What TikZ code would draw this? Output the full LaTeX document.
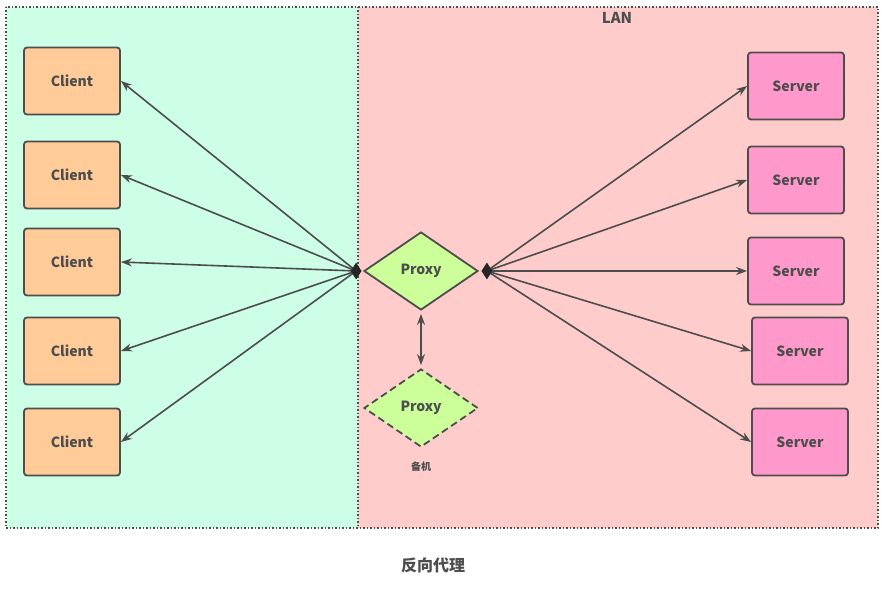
\documentclass[tikz,border=0pt]{standalone}
\usepackage{fontspec}
\setmainfont{Noto Sans CJK SC}
\usepackage{xcolor}
\usetikzlibrary{positioning,arrows.meta,shapes.geometric,calc}
\definecolor{LANpink}{HTML}{FFCCCC}
\definecolor{WANmint}{HTML}{CCFFE6}
\definecolor{clientfill}{HTML}{FFCC99}
\definecolor{serverfill}{HTML}{FF99CC}
\definecolor{proxyfill}{HTML}{CCFF99}
\definecolor{edgegray}{HTML}{4D4D4D}
\tikzset{
  zone/.style={draw=edgegray,line width=1.3pt,dash pattern=on 1.3pt off 2.2pt},
  clientbox/.style={draw=edgegray,line width=1.8pt,rounded corners=3pt,fill=clientfill,minimum width=96pt,minimum height=67pt,font=\bfseries\fontsize{14}{16}\selectfont,text=edgegray},
  serverbox/.style={clientbox,fill=serverfill},
  proxynode/.style={diamond,draw=edgegray,line width=1.8pt,fill=proxyfill,aspect=1.46,inner sep=0pt,minimum width=114pt,minimum height=78pt,font=\bfseries\fontsize{14}{16}\selectfont,text=edgegray},
  arr/.style={-{Stealth[length=11pt,width=8pt]},line width=1.6pt,draw=edgegray},
  hub/.style={diamond,fill=black!85,inner sep=0pt,minimum width=11pt,minimum height=17pt}
}
\begin{document}
\begin{tikzpicture}[x=1pt,y=-1pt]
\useasboundingbox (0,0) rectangle (887,591);
% zones
\fill[WANmint] (6,7) rectangle (358,528);
\fill[LANpink] (358,7) rectangle (878,528);
\draw[zone] (6,7) rectangle (878,528);
\draw[zone] (358,7) -- (358,528);
\node[font=\bfseries\fontsize{15}{17}\selectfont,text=edgegray] (lan) at (617,18) {LAN};

% clients
\node[clientbox] (c1) at (72,81) {Client};
\node[clientbox] (c2) at (72,175) {Client};
\node[clientbox] (c3) at (72,262) {Client};
\node[clientbox] (c4) at (72,351) {Client};
\node[clientbox] (c5) at (72,442) {Client};

% servers
\node[serverbox] (s1) at (796,86) {Server};
\node[serverbox] (s2) at (796,180) {Server};
\node[serverbox] (s3) at (796,271) {Server};
\node[serverbox] (s4) at (800,351) {Server};
\node[serverbox] (s5) at (800,442) {Server};

% proxies
\node[proxynode] (proxy) at (421,271) {Proxy};
\node[proxynode,dashed,dash pattern=on 7pt off 4pt] (backup) at (421,408) {Proxy};
\node[font=\bfseries\fontsize{10}{12}\selectfont,text=edgegray] (backuplbl) at (421,467) {备机};

\coordinate (pl) at ($(proxy.west)+(-7,0)$);
\coordinate (pr) at ($(proxy.east)+(8,0)$);

\foreach \c in {c1,c2,c3,c4,c5}
  \draw[arr] (pl) -- (\c.east);
\foreach \s in {s1,s2,s3,s4,s5}
  \draw[arr] (pr) -- (\s.west);
\node[hub] (hubl) at (pl) {};
\node[hub] (hubr) at (pr) {};

\draw[arr,{Stealth[length=11pt,width=8pt]}-{Stealth[length=11pt,width=8pt]}] ($(proxy.south)+(0,3)$) -- ($(backup.north)+(0,-3)$);

\node[font=\bfseries\fontsize{16}{18}\selectfont,text=edgegray] (caption) at (433,565) {反向代理};
\end{tikzpicture}
\end{document}
